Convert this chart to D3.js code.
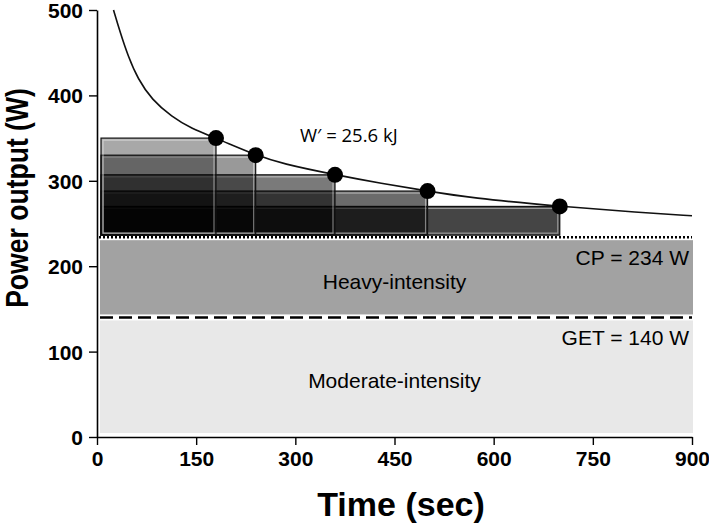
<!DOCTYPE html>
<html><head><meta charset="utf-8">
<script src="https://cdn.jsdelivr.net/npm/d3@7"></script>
<style>
body{margin:0;background:#fff;}
svg{display:block;font-family:"Liberation Sans",Arial,sans-serif;}
</style></head>
<body><svg id="c" width="709" height="528"></svg>
<script>
// ---- data ----
const trialTimes = [180, 240, 360, 500, 700];          // sec
const trialPowers = [350, 330, 307, 288, 270];          // W
const curveTimes = [25, 35, 47, 62, 83, 113, 143, 180, 240, 280, 360, 430, 500, 564, 700, 820, 900];
const curvePowers = [500, 474, 446, 419, 395, 375, 361, 350, 330, 320, 307, 297, 288, 280, 270, 263, 259];
const CP = 234, GET = 140;
const xTicks = [0, 150, 300, 450, 600, 750, 900];
const yTicks = [0, 100, 200, 300, 400, 500];
const labels = {wprime: "W\u2032 = 25.6 kJ", cp: "CP = 234 W", get: "GET = 140 W",
  heavy: "Heavy-intensity", moderate: "Moderate-intensity", x: "Time (sec)", y: "Power output (W)"};

// ---- layout ----
const svg = d3.select("#c");
const x = d3.scaleLinear().domain([0, 900]).range([97, 692]);
const y = d3.scaleLinear().domain([0, 500]).range([437, 10]);
const shade = [0.34, 0.40, 0.52, 0.58, 0.73];

// zones
const inset = 3;
svg.append("rect").attr("x", x(0) + 3).attr("width", x(900) - x(0) - 2)
  .attr("y", y(GET) + inset).attr("height", y(0) - y(GET) - inset - 4)
  .attr("fill", "#e8e8e8");
svg.append("rect").attr("x", x(0) + 3).attr("width", x(900) - x(0) - 2)
  .attr("y", y(CP) + inset).attr("height", y(GET) - y(CP) - inset * 2)
  .attr("fill", "#a2a2a2");

// W' rectangles (widest first)
const idx = d3.range(trialTimes.length).reverse();
const rg = svg.append("g");
idx.forEach(i => {
  const x0 = x(0) + 4, x1 = x(trialTimes[i]), y0 = y(trialPowers[i]), y1 = y(CP) - 2;
  rg.append("rect").attr("x", x0).attr("y", y0).attr("width", x1 - x0).attr("height", y1 - y0)
    .attr("fill", "#000").attr("fill-opacity", shade[i])
    .attr("stroke", "#111").attr("stroke-width", 1.2);
  rg.append("rect").attr("x", x0 + 2).attr("y", y0 + 2).attr("width", x1 - x0 - 4).attr("height", y1 - y0 - 4)
    .attr("fill", "none").attr("stroke", "#fff").attr("stroke-opacity", 0.45).attr("stroke-width", 1.2);
});

// CP dotted line, GET dashed line
svg.append("line").attr("x1", x(0) + 2).attr("x2", x(900)).attr("y1", y(CP)).attr("y2", y(CP))
  .attr("stroke", "#000").attr("stroke-width", 2.5).attr("stroke-dasharray", "2,2");
svg.append("line").attr("x1", x(0) + 3).attr("x2", x(900)).attr("y1", y(GET)).attr("y2", y(GET))
  .attr("stroke", "#000").attr("stroke-width", 2.5).attr("stroke-dasharray", "13,6");

// curve
const line = d3.line().x((d, i) => x(curveTimes[i])).y((d, i) => y(curvePowers[i])).curve(d3.curveBasis);
svg.append("path").datum(curveTimes).attr("d", line).attr("fill", "none").attr("stroke", "#111").attr("stroke-width", 1.6);

// points
svg.append("g").selectAll("circle").data(trialTimes).join("circle")
  .attr("cx", d => x(d)).attr("cy", (d, i) => y(trialPowers[i])).attr("r", 8).attr("fill", "#000");

// axes
const xa = svg.append("g").attr("transform", `translate(0,${y(0)})`)
  .call(d3.axisBottom(x).tickValues(xTicks).tickSize(8).tickPadding(6).tickSizeOuter(0));
const ya = svg.append("g").attr("transform", `translate(${x(0)},0)`)
  .call(d3.axisLeft(y).tickValues(yTicks).tickSize(8).tickPadding(6).tickSizeOuter(0));
[xa, ya].forEach(a => {
  a.select(".domain").attr("stroke", "#000").attr("stroke-width", 1.6);
  a.selectAll(".tick line").attr("stroke", "#000").attr("stroke-width", 1.4);
  a.selectAll(".tick text").attr("font-family", "Liberation Sans, Arial, sans-serif")
    .attr("font-weight", "bold").attr("font-size", 21).attr("fill", "#000");
});
ya.selectAll(".tick text").attr("dy", "0.36em");

// texts
svg.append("text").attr("x", 300).attr("y", 142).attr("font-family", "Open Sans, sans-serif")
  .attr("font-size", 18.5).text(labels.wprime);
svg.append("text").attr("x", (x(0) + x(900)) / 2).attr("y", 289).attr("text-anchor", "middle")
  .attr("font-size", 21).text(labels.heavy);
svg.append("text").attr("x", 689).attr("y", 265).attr("text-anchor", "end")
  .attr("font-size", 21).text(labels.cp);
svg.append("text").attr("x", 689).attr("y", 345).attr("text-anchor", "end")
  .attr("font-size", 21).text(labels.get);
svg.append("text").attr("x", (x(0) + x(900)) / 2).attr("y", 388).attr("text-anchor", "middle")
  .attr("font-size", 21).text(labels.moderate);
svg.append("text").attr("x", 401).attr("y", 516).attr("text-anchor", "middle")
  .attr("font-weight", "bold").attr("font-size", 34).text(labels.x);
svg.append("text").attr("transform", `translate(28,198) rotate(-90) scale(0.83,1)`)
  .attr("text-anchor", "middle").attr("font-weight", "bold").attr("font-size", 32).text(labels.y);
</script></body></html>
